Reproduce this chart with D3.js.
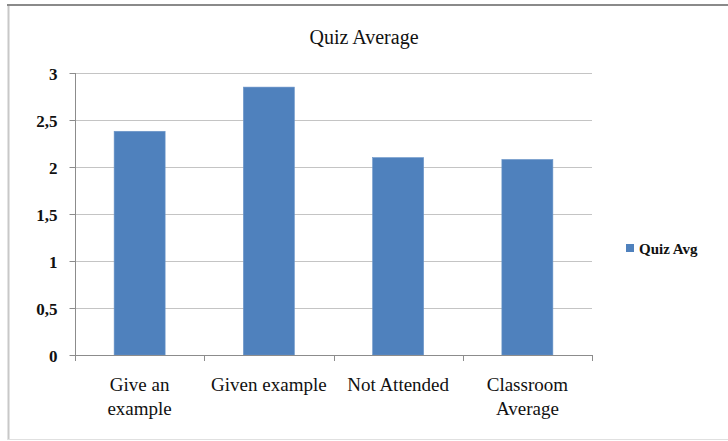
<!DOCTYPE html>
<html>
<head>
<meta charset="utf-8">
<script src="https://cdn.jsdelivr.net/npm/d3@7/dist/d3.min.js"></script>
<style>
  html, body { margin: 0; padding: 0; background: #fff; }
  svg { display: block; }
  text { font-family: "Liberation Serif", "Times New Roman", serif; fill: #111; }
</style>
</head>
<body>
<script>
// Quiz averages per group
const categories = ["Give an example", "Given example", "Not Attended", "Classroom Average"];
const categoryLines = [["Give an", "example"], ["Given example"], ["Not Attended"], ["Classroom", "Average"]];
const quizAvg = [2.38, 2.85, 2.10, 2.08];
const yTicks = [0, 0.5, 1, 1.5, 2, 2.5, 3];
const yTickLabels = ["0", "0,5", "1", "1,5", "2", "2,5", "3"];
const seriesName = "Quiz Avg";
const title = "Quiz Average";

const W = 728, H = 441;
const plot = { left: 75, right: 592, top: 73, bottom: 355 };
const serif = "'Liberation Serif', 'Times New Roman', serif";

const svg = d3.select("body").append("svg")
  .attr("width", W).attr("height", H);

// chart frame
svg.append("rect").attr("x", 0).attr("y", 0).attr("width", W).attr("height", H).attr("fill", "#fff");
svg.append("line").attr("x1", 8.5).attr("x2", 8.5).attr("y1", 5).attr("y2", 440)
  .attr("stroke", "#c8c8c8").attr("stroke-width", 2);
svg.append("line").attr("x1", 8).attr("x2", W).attr("y1", 439.5).attr("y2", 439.5)
  .attr("stroke", "#e0e0e0").attr("stroke-width", 1);
svg.append("line").attr("x1", 7).attr("x2", W).attr("y1", 5).attr("y2", 5)
  .attr("stroke", "#8a8a8a").attr("stroke-width", 2);

const xOuter = d3.scaleBand().domain(categories).range([plot.left, plot.right]);
const y = d3.scaleLinear().domain([0, 3]).range([plot.bottom, plot.top]);
const barWidth = 51;

// horizontal gridlines
svg.append("g").selectAll("line").data(yTicks.filter(d => d > 0)).join("line")
  .attr("x1", plot.left).attr("x2", plot.right)
  .attr("y1", d => Math.round(y(d)) + 0.5).attr("y2", d => Math.round(y(d)) + 0.5)
  .attr("stroke", "#c4c4c4").attr("stroke-width", 1.2);

// bars
svg.append("g").selectAll("rect").data(categories).join("rect")
  .attr("x", d => xOuter(d) + (xOuter.bandwidth() - barWidth) / 2)
  .attr("width", barWidth)
  .attr("y", (d, i) => y(quizAvg[i]))
  .attr("height", (d, i) => y(0) - y(quizAvg[i]))
  .attr("fill", "#4f81bd")
  .attr("stroke", "#6b95c8").attr("stroke-width", 0.6);

// y axis
const yAxis = d3.axisLeft(y).tickValues(yTicks)
  .tickFormat((d, i) => yTickLabels[i]).tickSize(6).tickPadding(12);
const gy = svg.append("g").attr("transform", `translate(${plot.left + 0.5},0)`).call(yAxis);
gy.select(".domain").attr("stroke", "#8c8c8c").attr("d", `M0,${plot.top}V${plot.bottom}`);
gy.selectAll(".tick line").attr("stroke", "#8c8c8c");
gy.selectAll(".tick text").style("font-family", serif).attr("font-size", 17)
  .attr("fill", "#111").attr("font-weight", "bold").attr("dy", "0.36em");

// x axis with ticks at category boundaries
const boundaries = categories.map(c => xOuter(c)).concat([plot.right]);
const gx = svg.append("g");
gx.append("line").attr("x1", plot.left).attr("x2", plot.right)
  .attr("y1", plot.bottom + 0.5).attr("y2", plot.bottom + 0.5).attr("stroke", "#8c8c8c");
gx.selectAll("line.tk").data(boundaries).join("line").attr("class", "tk")
  .attr("x1", d => Math.round(d) + 0.5).attr("x2", d => Math.round(d) + 0.5)
  .attr("y1", plot.bottom).attr("y2", plot.bottom + 6).attr("stroke", "#8c8c8c");

// category labels
const lbl = svg.append("g").selectAll("text").data(categories).join("text")
  .style("font-family", serif)
  .attr("text-anchor", "middle").attr("font-size", 19)
  .attr("x", d => xOuter(d) + xOuter.bandwidth() / 2)
  .attr("y", 391);
lbl.selectAll("tspan").data((d, i) => categoryLines[i]).join("tspan")
  .attr("x", function () { return d3.select(this.parentNode).attr("x"); })
  .attr("dy", (d, j) => j === 0 ? 0 : 24)
  .text(d => d);

// title
svg.append("text").style("font-family", serif)
  .attr("x", 364).attr("y", 44).attr("text-anchor", "middle")
  .attr("font-size", 20).text(title);

// legend
const lg = svg.append("g").attr("transform", "translate(626,244)");
lg.append("rect").attr("width", 8).attr("height", 8).attr("fill", "#4f81bd");
lg.append("text").style("font-family", serif)
  .attr("x", 13).attr("y", 9.5).attr("font-size", 15).attr("font-weight", "bold").text(seriesName);
</script>
</body>
</html>
